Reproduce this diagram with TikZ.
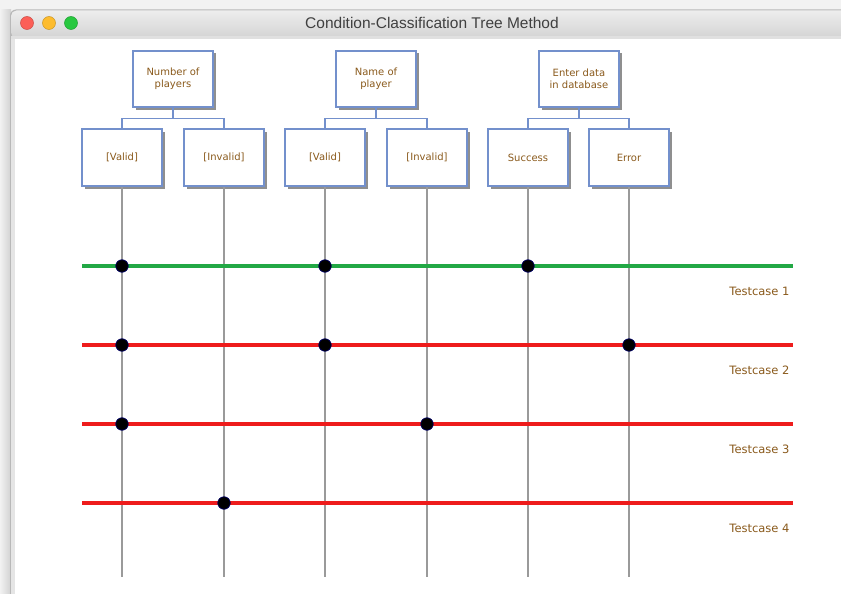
\documentclass[tikz,border=0pt]{standalone}
\usepackage{fontspec}
\setmainfont{DejaVu Sans}
\newfontfamily\titlefont{Liberation Sans}
\usetikzlibrary{shadows}
\definecolor{boxblue}{HTML}{7390CC}
\definecolor{labelbrown}{HTML}{8A5A1C}
\definecolor{lifegray}{HTML}{9A9A9A}
\definecolor{passgreen}{HTML}{22A845}
\definecolor{failred}{HTML}{EE1C1C}
\definecolor{tlred}{HTML}{FC5F57}
\definecolor{tlyellow}{HTML}{FDBC2E}
\definecolor{tlgreen}{HTML}{28C840}
\begin{document}
\begin{tikzpicture}[x=1pt,y=-1pt,
  catbox/.style={draw=boxblue, line width=1.2pt, fill=white, minimum width=80pt,
    minimum height=56pt, align=center, text=labelbrown, font=\fontsize{10}{12.2}\selectfont,
    drop shadow={shadow xshift=2.5pt, shadow yshift=-2.5pt, fill=black!55, opacity=0.8}},
  clsbox/.style={catbox, minimum height=57pt},
  tree/.style={draw=boxblue, line width=1.2pt},
  life/.style={draw=lifegray, line width=1.4pt},
  passline/.style={draw=passgreen, line width=3.6pt},
  failline/.style={draw=failred, line width=3.6pt},
  hit/.style={circle, fill=black, draw=black!60!blue, line width=0.7pt, minimum size=12.5pt, inner sep=0pt},
  tclabel/.style={anchor=east, text=labelbrown, font=\fontsize{11.5}{13}\selectfont},
  light/.style={circle, minimum size=13pt, inner sep=0pt, line width=0.5pt}]
\useasboundingbox (0,0) rectangle (841,594);
% desktop behind the window
\fill[black!5] (0,0) rectangle (841,594);
\shade[left color=black!5, right color=black!18] (0,10) rectangle (11,594);
% window frame and title bar
\fill[black!28, rounded corners=6pt] (10,9.5) rectangle (870,640);
\shade[top color=black!7, bottom color=black!17, rounded corners=5.5pt] (11,10.5) rectangle (869,38);
\fill[black!12] (11,36.5) rectangle (869,39);
\fill[black!10] (11,39) rectangle (14.5,640);
\fill[white] (14.5,39) rectangle (869,640);
\node[light, fill=tlred, draw=tlred!80!black] (close) at (27,23) {};
\node[light, fill=tlyellow, draw=tlyellow!80!black] (minimise) at (49,23) {};
\node[light, fill=tlgreen, draw=tlgreen!80!black] (zoom) at (71,23) {};
\node[text=black!75, font=\titlefont\fontsize{15.5}{17}\selectfont] (title) at (432,23) {Condition-Classification Tree Method};

% classifications
\node[catbox] (np) at (173,79) {Number of\\players};
\node[catbox] (nm) at (376,79) {Name of\\player};
\node[catbox] (db) at (579,79) {Enter data\\in database};
% classes
\node[clsbox] (v1) at (122,157.5) {[Valid]};
\node[clsbox] (i1) at (224,157.5) {[Invalid]};
\node[clsbox] (v2) at (325,157.5) {[Valid]};
\node[clsbox] (i2) at (427,157.5) {[Invalid]};
\node[clsbox] (ok) at (528,157.5) {Success};
\node[clsbox] (er) at (629,157.5) {Error};
% tree connectors
\draw[tree] (np.south) -- ++(0,11) -| (v1.north);
\draw[tree] (np.south) -- ++(0,11) -| (i1.north);
\draw[tree] (nm.south) -- ++(0,11) -| (v2.north);
\draw[tree] (nm.south) -- ++(0,11) -| (i2.north);
\draw[tree] (db.south) -- ++(0,11) -| (ok.north);
\draw[tree] (db.south) -- ++(0,11) -| (er.north);

% lines below each class
\foreach \c in {v1,i1,v2,i2,ok,er} {
  \coordinate (\c-end) at (\c |- 0,577);
  \draw[life] (\c.south) -- (\c-end);
}

% test cases
\coordinate (t1a) at (82,266);  \coordinate (t1b) at (793,266);
\coordinate (t2a) at (82,345);  \coordinate (t2b) at (793,345);
\coordinate (t3a) at (82,424);  \coordinate (t3b) at (793,424);
\coordinate (t4a) at (82,503);  \coordinate (t4b) at (793,503);
\draw[passline] (t1a) -- (t1b);
\draw[failline] (t2a) -- (t2b);
\draw[failline] (t3a) -- (t3b);
\draw[failline] (t4a) -- (t4b);

\node[hit] (h11) at (v1 |- t1a) {};
\node[hit] (h12) at (v2 |- t1a) {};
\node[hit] (h13) at (ok |- t1a) {};
\node[hit] (h21) at (v1 |- t2a) {};
\node[hit] (h22) at (v2 |- t2a) {};
\node[hit] (h23) at (er |- t2a) {};
\node[hit] (h31) at (v1 |- t3a) {};
\node[hit] (h32) at (i2 |- t3a) {};
\node[hit] (h41) at (i1 |- t4a) {};

\node[tclabel] (tc1) at (793,291) {Testcase 1};
\node[tclabel] (tc2) at (793,370) {Testcase 2};
\node[tclabel] (tc3) at (793,449) {Testcase 3};
\node[tclabel] (tc4) at (793,528) {Testcase 4};
\end{tikzpicture}
\end{document}
